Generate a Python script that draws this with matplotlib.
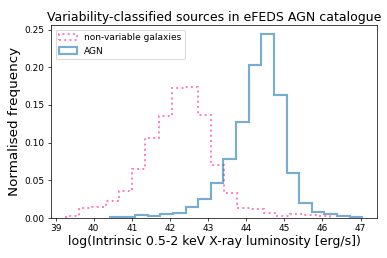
import numpy as np
from matplotlib import pyplot as plt

# bin edges (20 bins each)
gal_edges = [39.27, 39.62, 39.96, 40.31, 40.66, 41.00, 41.35, 41.70, 42.04, 42.39,
             42.74, 43.08, 43.43, 43.77, 44.12, 44.47, 44.81, 45.16, 45.50, 45.85, 46.20]
gal_freq = [0.003, 0.0128, 0.0146, 0.0225, 0.0355, 0.065, 0.106, 0.1356, 0.172, 0.174,
            0.137, 0.070, 0.033, 0.0137, 0.012, 0.0072, 0.0028, 0.005, 0.0045, 0.003]

agn_edges = [40.43, 40.76, 41.09, 41.42, 41.75, 42.08, 42.41, 42.74, 43.07, 43.40, 43.74,
             44.07, 44.40, 44.73, 45.06, 45.39, 45.72, 46.05, 46.38, 46.71, 47.04]
agn_freq = [0.001, 0.002, 0.004, 0.003, 0.005, 0.006, 0.014, 0.025, 0.047, 0.078,
            0.127, 0.2027, 0.2438, 0.163, 0.060, 0.0199, 0.0075, 0.005, 0.0022, 0.0015]

fig, ax = plt.subplots(figsize=(6, 4), dpi=64.5)

gal_centres = 0.5 * (np.array(gal_edges[:-1]) + np.array(gal_edges[1:]))
agn_centres = 0.5 * (np.array(agn_edges[:-1]) + np.array(agn_edges[1:]))

ax.hist(gal_centres, bins=gal_edges, weights=gal_freq, histtype="step",
        color="hotpink", linestyle=":", linewidth=2.2, alpha=0.85,
        label="non-variable galaxies")
ax.hist(agn_centres, bins=agn_edges, weights=agn_freq, histtype="step",
        color="tab:blue", linewidth=2.4, alpha=0.6, label="AGN")

ax.set_xticks(range(39, 48))
ax.tick_params(labelsize=10)
ax.set_xlabel("log(Intrinsic 0.5-2 keV X-ray luminosity [erg/s])", fontsize=14, labelpad=2)
ax.set_ylabel("Normalised frequency", fontsize=15)
ax.set_title("Variability-classified sources in eFEDS AGN catalogue", fontsize=14, pad=5)
ax.legend(loc="upper left", fontsize=10)

plt.subplots_adjust(left=0.132, right=0.974, top=0.903, bottom=0.155)
plt.savefig("out.png", dpi=64.5)
